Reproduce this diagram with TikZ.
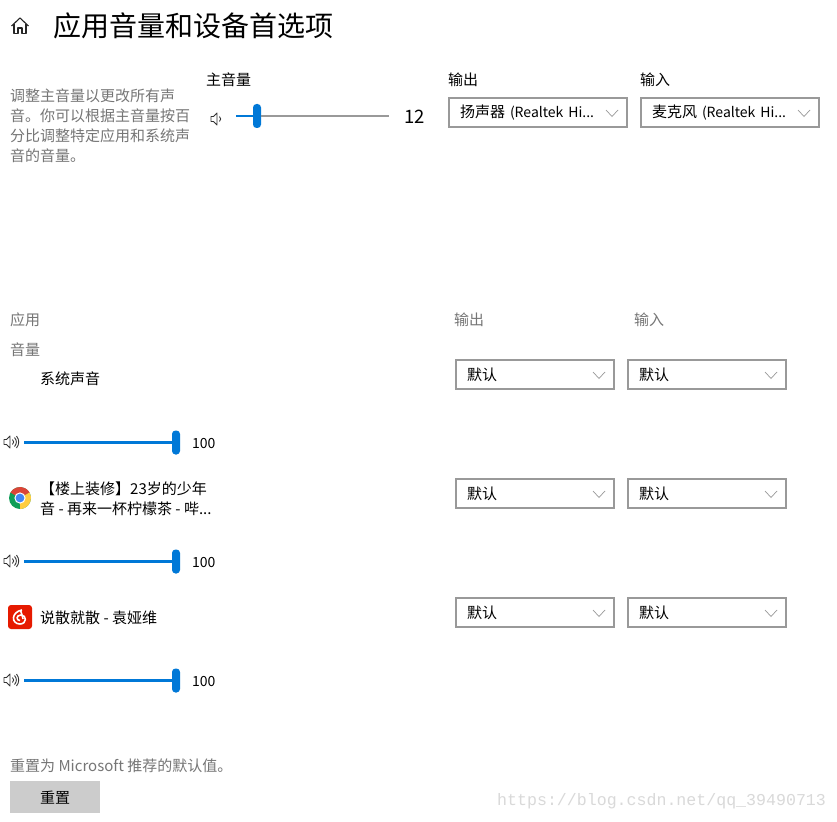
\documentclass[tikz,border=0pt]{standalone}
\usepackage{fontspec}
\setmainfont{Noto Sans CJK SC}
\newfontfamily\markfont{Liberation Mono}
\definecolor{winblue}{HTML}{0078D7}
\definecolor{wingray}{HTML}{767676}
\definecolor{boxgray}{HTML}{999999}
\definecolor{chromered}{HTML}{DB4437}
\definecolor{chromeyellow}{HTML}{FFCD40}
\definecolor{chromegreen}{HTML}{0F9D58}
\definecolor{chromeblue}{HTML}{4285F4}
\definecolor{neteasered}{HTML}{E61A00}
\tikzset{
	label15/.style={anchor=west,inner sep=0pt,font=\fontsize{15}{20}\selectfont},
	graytext/.style={label15,text=wingray,align=left},
	dropbox/.style={anchor=north west,draw=boxgray,line width=2pt,inner xsep=11pt,inner ysep=0pt,
		text width=#1-22pt,minimum height=29pt,align=left,font=\fontsize{15}{20}\selectfont,
		path picture={\draw[boxgray,line width=.7pt] ([xshift=-21pt,yshift=2.5pt]path picture bounding box.east)
			-- ([xshift=-15pt,yshift=-4pt]path picture bounding box.east)
			-- ([xshift=-9pt,yshift=2.5pt]path picture bounding box.east);}},
	knob/.style={fill=winblue,minimum width=8pt,minimum height=24pt,inner sep=0pt,rounded corners=3.5pt},
	trackon/.style={winblue,line width=2.4pt},
	trackoff/.style={color=boxgray,line width=2pt},
	volnum/.style={anchor=west,inner sep=0pt,font=\fontsize{14}{18}\selectfont},
	speaker/.pic={
		\draw[black!80,line width=.9pt,line join=round] (-6,-2.5) -- (-3.5,-2.5) -- (0,-6) -- (0,6) -- (-3.5,2.5) -- (-6,2.5) -- cycle;
		\draw[black!80,line width=.9pt] (2.5,-2.5) .. controls (4,-1) and (4,1) .. (2.5,2.5);
	},
	speakerloud/.pic={
		\pic {speaker};
		\draw[black!80,line width=.9pt] (4.5,-4.5) .. controls (7,-1.5) and (7,1.5) .. (4.5,4.5);
		\draw[black!80,line width=.9pt] (6.5,-6) .. controls (9.5,-2) and (9.5,2) .. (6.5,6);
	},
	homeicon/.pic={
		\draw[black!85,line width=1.1pt,line join=round] (-8.5,0) -- (0,-8) -- (8.5,0);
		\draw[black!85,line width=1.1pt,line join=round] (-6,-1.5) -- (-6,7.5) -- (-2,7.5) -- (-2,2) -- (2,2) -- (2,7.5) -- (6,7.5) -- (6,-1.5);
	},
	chromeicon/.pic={
		\fill[chromegreen] (0,0) circle (11);
		\fill[chromered] (0,0) -- (-9.53,-5.5) arc[start angle=210,end angle=330,radius=11] -- cycle;
		\fill[chromeyellow] (0,0) -- (9.53,-5.5) arc[start angle=330,end angle=450,radius=11] -- cycle;
		\fill[white] (0,0) circle (5.6);
		\fill[chromeblue] (0,0) circle (4.4);
	},
	neteaseicon/.pic={
		\fill[neteasered,rounded corners=3pt] (-12,-12) rectangle (12,12);
		\draw[white,line width=1.6pt] (2,-7) .. controls (-9,-5) and (-9,7) .. (0,7) .. controls (7,7) and (7,-2) .. (1,-2) .. controls (-4,-2) and (-4,3.5) .. (0,3.5);
		\draw[white,line width=1.6pt] (0.5,-7) .. controls (1.5,-3) and (3,0) .. (3,2);
	}
}
\begin{document}
\begin{tikzpicture}[x=1pt,y=-1pt]
\useasboundingbox[fill=white] (0,0) rectangle (837,821);
% top
\pic (home) at (20,26) {homeicon};
\node [anchor=west,inner sep=0pt,font=\fontsize{28}{32}\selectfont] (title) at (53,26) {应用音量和设备首选项};
\node [graytext] (desc) at (10,125.5) {调整主音量以更改所有声\\音。你可以根据主音量按百\\分比调整特定应用和系统声\\音的音量。};
\node [label15] (master) at (206,79.5) {主音量};
\pic (spkmain) at (217,119) {speaker};
\coordinate (mainstart) at (236,116);
\coordinate (mainend) at (389,116);
\node [knob] (mainknob) at (257,116) {};
\draw[trackoff] (mainknob) -- (mainend);
\draw[trackon] (mainstart) -- (mainknob);
\node [volnum,font=\fontsize{18.5}{24}\selectfont] (mainnum) at (404,117) {12};
\node [label15] (outtop) at (448,79.5) {输出};
\node [label15] (intop) at (640,79.5) {输入};
\node [dropbox=178pt] (dropout) at (448,97) {扬声器 {\fontsize{14}{20}\selectfont (Realtek Hi...}};
\node [dropbox=178pt] (dropin) at (640,97) {麦克风 {\fontsize{14}{20}\selectfont (Realtek Hi...}};
% headers
\node [graytext] (apphead) at (10,319.5) {应用};
\node [graytext] (volhead) at (10,349.5) {音量};
\node [graytext] (outhead) at (454,319.5) {输出};
\node [graytext] (inhead) at (634,319.5) {输入};
% system
\node [label15] (sysname) at (40,379) {系统声音};
\node [dropbox=158pt] (sysout) at (455,359) {默认};
\node [dropbox=158pt] (sysin) at (627,359) {默认};
\pic (spksys) at (10,442) {speakerloud};
\coordinate (sysstart) at (24,442.5);
\node [knob] (sysknob) at (176,442.5) {};
\draw[trackon] (sysstart) -- (sysknob);
\node [volnum] (sysnum) at (192,443.5) {100};
% chrome
\pic (chrome) at (20,498) {chromeicon};
\node [label15,align=left] (chromename) at (40,498.5) {【楼上装修】23岁的少年\\音 - 再来一杯柠檬茶 - 哔...};
\node [dropbox=158pt] (chromeout) at (455,478) {默认};
\node [dropbox=158pt] (chromein) at (627,478) {默认};
\pic (spkchrome) at (10,561) {speakerloud};
\coordinate (chromestart) at (24,561.5);
\node [knob] (chromeknob) at (176,561.5) {};
\draw[trackon] (chromestart) -- (chromeknob);
\node [volnum] (chromenum) at (192,562.5) {100};
% netease
\pic (netease) at (20,617) {neteaseicon};
\node [label15] (neteasename) at (40,617.5) {说散就散 - 袁娅维};
\node [dropbox=158pt] (neteaseout) at (455,597) {默认};
\node [dropbox=158pt] (neteasein) at (627,597) {默认};
\pic (spknetease) at (10,680) {speakerloud};
\coordinate (neteasestart) at (24,680.5);
\node [knob] (neteaseknob) at (176,680.5) {};
\draw[trackon] (neteasestart) -- (neteaseknob);
\node [volnum] (neteasenum) at (192,681.5) {100};
% bottom
\node [graytext] (resettext) at (10,765.5) {重置为 Microsoft 推荐的默认值。};
\node [anchor=north west,fill=black!20,minimum width=90pt,minimum height=32pt,inner sep=0pt,font=\fontsize{15}{20}\selectfont] (resetbtn) at (10,781) {重置};
\node [anchor=west,inner sep=0pt,text=black!15,font=\markfont\fontsize{16.6}{20}\selectfont] (mark) at (497,801) {https://blog.csdn.net/qq\_39490713};
\end{tikzpicture}
\end{document}
